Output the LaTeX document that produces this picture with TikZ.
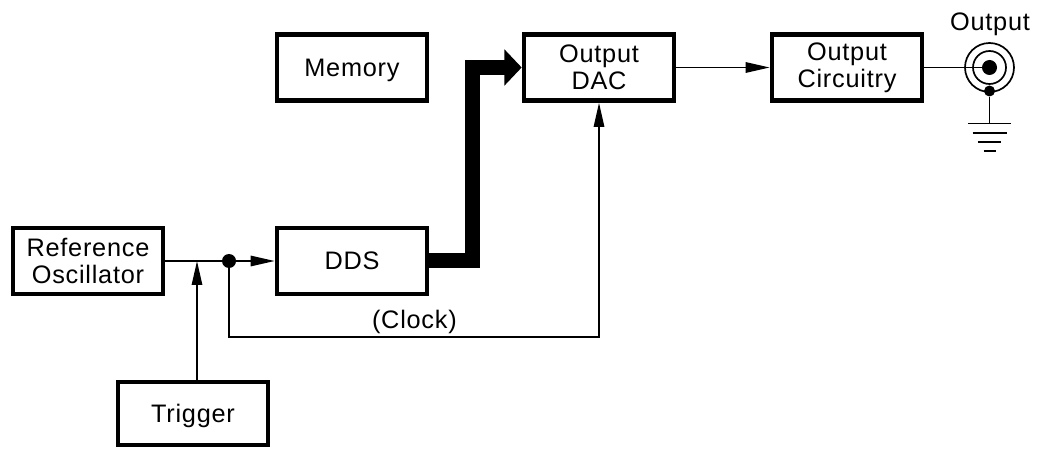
\documentclass[tikz,border=0pt]{standalone}
\usepackage{fontspec}
\setmainfont[LetterSpace=3]{Liberation Sans}
\usetikzlibrary{arrows.meta, positioning, calc}

\begin{document}
\begin{tikzpicture}[
	% Define styles
	blockbox/.style={rectangle, draw=black, line width=3.3pt, minimum width=3.75cm, minimum height=1.65cm, align=center, fill=white, font=\fontsize{18}{19}\selectfont},
	oneline/.style={text height=13pt, text depth=0.2pt},
	signal/.style={-{Triangle[length=0.6cm, width=0.26cm]}, line width=1.2pt, draw=black},
	wire/.style={line width=1.2pt, draw=black},
	bus/.style={-{Triangle[length=0.43cm, width=0.88cm]}, line width=0.375cm, draw=black},
	junction/.style={circle, fill=black, inner sep=0pt, minimum size=0.35cm},
	ring/.style={circle, draw=black, line width=1.2pt, inner sep=0pt},
	label/.style={font=\fontsize{18}{19}\selectfont}
	]
	\useasboundingbox (0,0) rectangle (26.05,11.2);
	
	% Main blocks
	\node[blockbox] (refosc) at (2.2,4.675) {Reference\\Oscillator};
	\node[blockbox, oneline, minimum height=1.58cm] (trigger) at (4.825,0.8625) {Trigger};
	\node[blockbox, oneline] (dds) at (8.8,4.675) {DDS};
	\node[blockbox, oneline] (memory) at (8.8,9.5125) {Memory};
	\node[blockbox] (dac) at (14.975,9.5125) {Output\\DAC};
	\node[blockbox] (circuitry) at (21.175,9.5125) {Output\\Circuitry};
	
	% Clock junction and turning points
	\node[junction] (clocktap) at (5.725,4.675) {};
	\coordinate (trigtap) at (4.925,4.675);
	\coordinate (clockturn) at (5.725,2.775);
	\coordinate (busturn) at (11.8,4.675);
	
	% Output connector
	\node[ring, minimum size=1.225cm] (jackouter) at (24.7375,9.5125) {};
	\node[ring, minimum size=0.825cm] (jackinner) at (24.7375,9.5125) {};
	\node[junction, minimum size=0.375cm] (jackpin) at (24.7375,9.5125) {};
	\node[junction, minimum size=0.275cm] (jackshield) at (24.7375,8.925) {};
	\coordinate (ground) at (24.7375,8.1125);
	
	% Connections
	\draw[wire] (refosc) -- (clocktap);
	\draw[signal] (clocktap) -- (dds);
	\draw[signal] (trigger.north -| trigtap) -- (trigtap);
	\draw[signal] (clocktap) -- (clockturn) -| (dac.south);
	\draw[bus] (dds.east) -- (busturn) |- (dac.west);
	\draw[signal] (dac) -- (circuitry);
	\draw[wire] (circuitry) -- (jackpin);
	\draw[wire] (jackshield) -- (ground);
	
	% Ground bars
	\foreach \drop/\halfw in {0/0.54, 0.23/0.425, 0.46/0.29, 0.69/0.15}
		\draw[wire] ($(ground)+(-\halfw,-\drop)$) -- ($(ground)+(\halfw,-\drop)$);
	
	% Labels
	\node[label] (clocklabel) at (10.36,3.15) {(Clock)};
	\node[label] (outputlabel) at (24.75,10.6) {Output};
	
\end{tikzpicture}
\end{document}
